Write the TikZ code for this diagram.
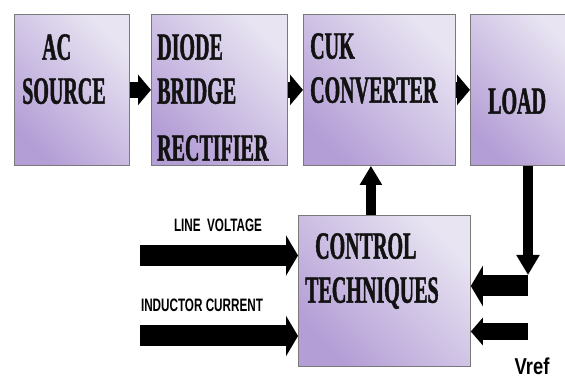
\documentclass[tikz,border=0pt]{standalone}
\usepackage{fontspec}
\usepackage{xcolor}
\usepackage{tikz}
\usetikzlibrary{arrows.meta, positioning}

\newfontfamily\blockfont{Liberation Serif Bold}[FakeStretch=0.52, FakeBold=1.2]
\newfontfamily\labelfont{Liberation Sans Bold}[FakeStretch=0.65]
\newfontfamily\vreffont{Liberation Sans Bold}[FakeStretch=0.8]

\definecolor{lavlight}{HTML}{E8E4F2}
\definecolor{lavdark}{HTML}{B49ED6}
\definecolor{boxgray}{HTML}{7A7A7A}

\tikzset{
  block/.style={draw=boxgray, line width=0.8pt, top color=lavlight, bottom color=lavdark,
    shading angle=-45, inner sep=0pt, anchor=north west},
  blocktext/.style={font=\blockfont\fontsize{38.5}{44}\selectfont, align=left,
    inner sep=0pt, anchor=north west, text=black!93},
  sigtext/.style={font=\labelfont\fontsize{18}{20}\selectfont, inner sep=0pt},
  flow/.style={line width=16pt, -{Triangle[length=13pt, width=30pt]}},
  bigflow/.style={line width=21pt, -{Triangle[length=12pt, width=40pt]}},
  medflow/.style={line width=17pt, -{Triangle[length=12pt, width=27pt]}},
  thinflow/.style={line width=9.5pt, -{Triangle[length=19pt, width=21pt]}}
}

\begin{document}
\begin{tikzpicture}[x=1pt, y=-1pt]

  \path[use as bounding box, fill=white] (0,0) rectangle (565,379);

  % power stage
  \node[block, minimum width=115pt, minimum height=151pt] (src) at (14,14) {};
  \node[block, minimum width=136pt, minimum height=151pt] (rect) at (151,14) {};
  \node[block, minimum width=152pt, minimum height=151pt] (cuk) at (303,14) {};
  \node[block, minimum width=105pt, minimum height=151pt] (load) at (470,14) {};

  % controller
  \node[block, minimum width=172pt, minimum height=151pt] (ctrl) at (298,215) {};

  \node[blocktext] (srctxt) at (22,34) {\hspace*{20pt}AC\\SOURCE};
  \node[blocktext] (recttxt) at (157,34) {DIODE\\BRIDGE\\[13pt]RECTIFIER};
  \node[blocktext] (cuktxt) at (310,33) {CUK\\CONVERTER};
  \node[blocktext] (loadtxt) at (488,88) {LOAD};
  \node[blocktext] (ctrltxt) at (305,233) {\hspace*{10pt}CONTROL\\TECHNIQUES};

  \draw[flow] (src.east) -- (rect.west);
  \draw[flow] (rect.east) -- (cuk.west);
  \draw[flow] (cuk.east) -- (load.west);

  \draw[thinflow] ([xshift=-13.5pt]ctrl.north) -- ([xshift=-13.5pt]ctrl.north |- cuk.south);

  % feedback from load
  \coordinate (fbturn) at (528,275);
  \coordinate (fbin) at (528,286);
  \draw[line width=10pt, -{Triangle[length=20pt, width=22pt]}] (load.south -| fbturn) -- (fbturn);
  \draw[bigflow] (fbin) -- (fbin -| ctrl.east);

  \coordinate (vrefin) at (528,331.5);
  \draw[medflow] (vrefin) -- (vrefin -| ctrl.east);

  % sensed inputs
  \coordinate (lvin) at (140,255.5);
  \coordinate (icin) at (140,336);
  \draw[bigflow] (lvin) -- (lvin -| ctrl.west);
  \draw[bigflow] (icin) -- (icin -| ctrl.west);

  \node[sigtext] (lvlabel) at (218,225) {LINE\ \ VOLTAGE};
  \node[sigtext] (iclabel) at (202,305) {INDUCTOR CURRENT};
  \node[font=\vreffont\fontsize{23}{25}\selectfont, inner sep=0pt] (vref) at (532,366) {Vref};

\end{tikzpicture}
\end{document}
